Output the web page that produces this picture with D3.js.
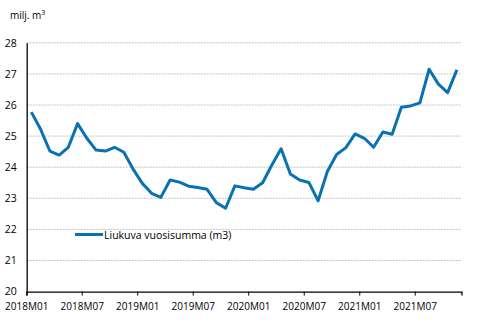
<!DOCTYPE html>
<html>
<head>
<meta charset="utf-8">
<script src="https://cdn.jsdelivr.net/npm/d3@7"></script>
<style>
  body { margin: 0; background: #fff; }
  svg text { font-family: "Open Sans", "Noto Sans", sans-serif; fill: #000; }
</style>
</head>
<body>
<div id="chart"></div>
<script>
"use strict";

// months 2018M01 .. 2021M11
var months = [];
for (var yr = 2018; yr <= 2021; yr++) {
  for (var m = 1; m <= 12; m++) {
    if (yr === 2021 && m === 12) break;
    months.push(yr + "M" + (m < 10 ? "0" + m : m));
  }
}

var values = [
  25.77, 25.22, 24.52, 24.39, 24.64, 25.40, 24.93, 24.55, 24.52, 24.64, 24.48, 23.94,
  23.48, 23.16, 23.03, 23.59, 23.52, 23.39, 23.35, 23.29, 22.86, 22.68, 23.40, 23.34,
  23.29, 23.50, 24.07, 24.59, 23.78, 23.59, 23.51, 22.92, 23.86, 24.41, 24.63, 25.07,
  24.93, 24.64, 25.13, 25.06, 25.93, 25.97, 26.07, 27.15, 26.67, 26.40, 27.13
];

var tickLabels = ["2018M01", "2018M07", "2019M01", "2019M07", "2020M01", "2020M07", "2021M01", "2021M07"];
var yTicks = [20, 21, 22, 23, 24, 25, 26, 27, 28];
var seriesName = "Liukuva vuosisumma (m3)";

var width = 487, height = 324;
var margin = {top: 42.8, right: 25.5, bottom: 32.4, left: 26.7};
var innerW = width - margin.left - margin.right,
    innerH = height - margin.top - margin.bottom;

var x = d3.scaleBand().domain(months).range([0, innerW]).paddingInner(0).paddingOuter(0);
var y = d3.scaleLinear().domain([20, 28]).range([innerH, 0]);

var svg = d3.select("#chart").append("svg")
    .attr("width", width)
    .attr("height", height)
  .append("g")
    .attr("transform", "translate(" + margin.left + "," + margin.top + ")");

// unit label
var unit = svg.append("text")
    .attr("x", 10 - margin.left)
    .attr("y", 19 - margin.top)
    .attr("font-size", "10px");
unit.append("tspan").text("milj. m");
unit.append("tspan").attr("font-size", "7px").attr("dy", "-4").text("3");

// gridlines
svg.append("g").selectAll("line")
    .data(yTicks.filter(function(d) { return d > 20; }))
  .enter().append("line")
    .attr("x1", 0).attr("x2", innerW)
    .attr("y1", function(d) { return y(d); })
    .attr("y2", function(d) { return y(d); })
    .attr("stroke", "#c4c4c4")
    .attr("stroke-width", 1)
    .attr("stroke-dasharray", "2,1");

// y axis
var yAxis = d3.axisLeft(y).tickValues(yTicks).tickSize(0).tickPadding(10);
var gy = svg.append("g").call(yAxis);
gy.select(".domain").attr("stroke", "#000").attr("stroke-width", 1.3);
gy.selectAll("text").attr("font-size", "10.5px").attr("font-family", "Open Sans, sans-serif");

// x axis
var xAxis = d3.axisBottom(x).tickValues(tickLabels).tickSizeOuter(0).tickSize(4).tickPadding(7);
var gx = svg.append("g")
    .attr("transform", "translate(0," + innerH + ")")
    .call(xAxis);
gx.select(".domain").attr("stroke", "#000").attr("stroke-width", 1.3);
gx.selectAll(".tick").attr("transform", function(d) {
  return "translate(" + x(d) + ",0)";
});
gx.selectAll(".tick line").attr("stroke", "#000");
gx.selectAll("text").attr("font-size", "10px").attr("font-family", "Open Sans, sans-serif");

// line
var line = d3.line()
    .x(function(d, i) { return x(months[i]) + x.bandwidth() / 2; })
    .y(function(d) { return y(d); });

svg.append("path")
    .datum(values)
    .attr("fill", "none")
    .attr("stroke", "#0a72b0")
    .attr("stroke-width", 3)
    .attr("stroke-linejoin", "round")
    .attr("d", line);

// legend
var lg = svg.append("g").attr("transform", "translate(" + (75 - margin.left) + "," + (234.5 - margin.top) + ")");
lg.append("line").attr("x1", 0).attr("x2", 28).attr("y1", 0).attr("y2", 0)
    .attr("stroke", "#0a72b0").attr("stroke-width", 3);
lg.append("text").attr("x", 29).attr("y", 4).attr("font-size", "10.5px").text(seriesName);
</script>
</body>
</html>
